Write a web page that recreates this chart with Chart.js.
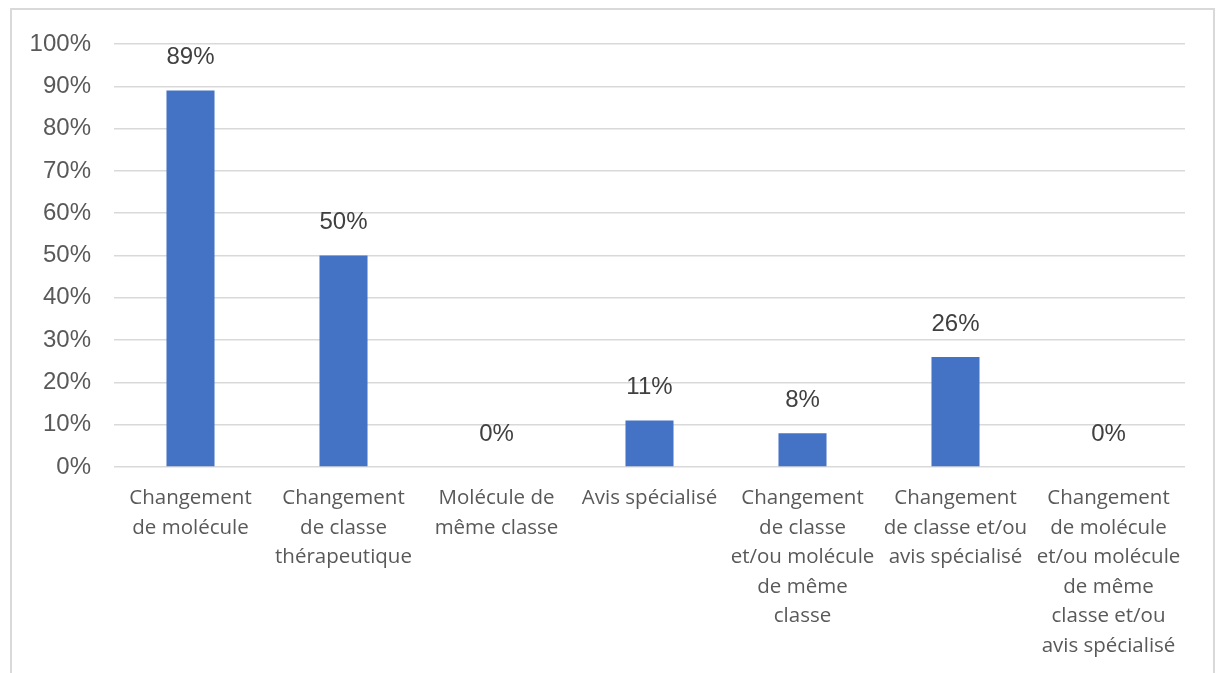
<!DOCTYPE html>
<html><head><meta charset="utf-8">
<script src="https://cdn.jsdelivr.net/npm/chart.js@4.4.1/dist/chart.umd.min.js"></script>
<style>
html,body{margin:0;padding:0;background:#fff;}
#frame{position:absolute;left:10px;top:8px;width:1205px;height:700px;border:2px solid #d9d9d9;box-sizing:border-box;}
#wrap{position:absolute;left:0;top:0;width:1219px;height:673px;}
</style></head>
<body>
<div id="frame"></div>
<div id="wrap"><canvas id="c" width="1219" height="673"></canvas></div>
<script>
const categories = [
  ["Changement","de molécule"],
  ["Changement","de classe","thérapeutique"],
  ["Molécule de","même classe"],
  ["Avis spécialisé"],
  ["Changement","de classe","et/ou molécule","de même","classe"],
  ["Changement","de classe et/ou","avis spécialisé"],
  ["Changement","de molécule","et/ou molécule","de même","classe et/ou","avis spécialisé"]
];
const values = [89, 50, 0, 11, 8, 26, 0];
const yTicks = [0,10,20,30,40,50,60,70,80,90,100];

const dataLabels = {
  id:'dataLabels',
  afterDatasetsDraw(chart){
    const ctx = chart.ctx, ys = chart.scales.y, xs = chart.scales.x;
    ctx.save();
    ctx.font = '24px "Liberation Sans", Arial, sans-serif';
    ctx.fillStyle = '#404040';
    ctx.textAlign = 'center';
    ctx.textBaseline = 'middle';
    values.forEach((v,i)=>{
      ctx.fillText(v + '%', xs.getPixelForValue(i), ys.getPixelForValue(v) - 33);
    });
    ctx.restore();
  }
};

new Chart(document.getElementById('c'), {
  type:'bar',
  data:{
    labels: categories,
    datasets:[{data: values, backgroundColor:'#4472C4', borderWidth:0, categoryPercentage:1, barPercentage:0.314}]
  },
  options:{
    responsive:false,
    animation:false,
    layout:{padding:{top:44,right:34,left:0,bottom:0}},
    plugins:{legend:{display:false}, tooltip:{enabled:false}},
    scales:{
      x:{
        grid:{display:false, drawTicks:false},
        border:{display:false},
        ticks:{color:'#595959', font:{family:'"Open Sans", sans-serif', size:20.5, lineHeight:'29.5px'}, padding:16.5, maxRotation:0, autoSkip:false},
        afterFit(s){ s.height = 206; }
      },
      y:{
        min:0, max:100,
        afterBuildTicks(s){ s.ticks = yTicks.map(v=>({value:v})); },
        grid:{color:'#d9d9d9', lineWidth:1.5, drawTicks:false},
        border:{display:false},
        ticks:{color:'#595959', font:{family:'"Liberation Sans", Arial, sans-serif', size:24}, padding:23, callback:v=>v+'%'},
        afterFit(s){ s.width = 114; }
      }
    }
  },
  plugins:[dataLabels]
});
</script>
</body></html>
